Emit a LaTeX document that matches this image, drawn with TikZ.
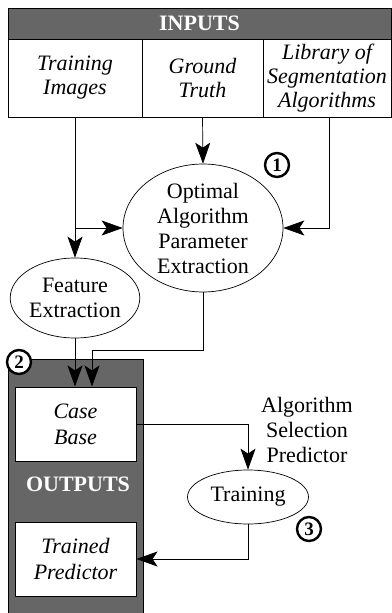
\documentclass[tikz,border=0pt]{standalone}
\usepackage{fontspec}
\setmainfont{Liberation Serif}
\usetikzlibrary{arrows.meta,positioning,shapes.geometric}
\definecolor{panelgray}{RGB}{102,102,102}

\begin{document}
\begin{tikzpicture}[x=1pt,y=-1pt,
  font=\fontsize{22}{25}\selectfont,
  arr/.style={-{Stealth[length=21pt,width=15pt,inset=5pt]},line width=0.7pt},
  inbox/.style={draw,line width=1pt,fill=white,minimum height=78pt,inner sep=0pt,align=center,font=\fontsize{22}{24}\selectfont\itshape},
  outbox/.style={draw,line width=1pt,fill=white,minimum width=121pt,minimum height=74pt,inner sep=0pt,align=center,font=\fontsize{22}{26}\selectfont\itshape},
  proc/.style={draw,line width=0.7pt,ellipse,fill=white,inner sep=0pt,align=center},
  stepno/.style={draw,circle,line width=2.4pt,fill=white,minimum size=24pt,inner sep=0pt,font=\fontsize{19}{19}\selectfont\bfseries}
]
\useasboundingbox (0,0) rectangle (391,613);

% inputs
\node[draw,line width=1pt,fill=panelgray,minimum width=383pt,minimum height=31pt,inner sep=0pt,
  text=white,font=\fontsize{22}{22}\selectfont\bfseries] (inputs) at (199.5,23.5) {INPUTS};
\node[inbox,minimum width=134pt] (ti) at (75,78) {Training\\Images};
\node[inbox,minimum width=121pt] (gt) at (202.5,78) {Ground\\Truth};
\node[inbox,minimum width=128pt] (lib) at (327,78) {Library of\\Segmentation\\Algorithms};

% processing
\node[proc,minimum width=160pt,minimum height=127pt] (opt) at (203,228) {Optimal\\Algorithm\\Parameter\\Extraction};
\node[proc,minimum width=123pt,minimum height=80pt] (fe) at (75,298) {Feature\\Extraction};
\node[stepno] (one) at (277,165) {1};

% outputs
\draw[line width=1pt,fill=panelgray] (8,359) rectangle (143,616);
\node[outbox] (cb) at (75.5,424) {Case\\Base};
\node[text=white,font=\fontsize{22}{22}\selectfont\bfseries] (outputs) at (78,484) {OUTPUTS};
\node[outbox] (tp) at (75.5,559) {Trained\\Predictor};
\node[stepno] (two) at (19,362) {2};

\node[proc,minimum width=121pt,minimum height=54pt] (tr) at (248,497) {Training};
\node[align=center] (asp) at (307,430) {Algorithm\\Selection\\Predictor};
\node[stepno] (three) at (309,529) {3};

% connectors
\draw[arr] (ti.south) -- (fe.north);
\draw[arr] (ti.south |- opt.west) -- (opt.west);
\draw[arr] (gt.south) -- (opt.north);
\draw[arr] ([xshift=2pt]lib.south) |- (opt.east);
\draw[arr] (fe.south) -- (fe.south |- cb.north);
\draw[arr] (opt.south) -- ++(0,58) -| ([xshift=16.5pt]cb.north);
\draw[arr] (cb.east) -| (tr.north);
\draw[arr] (tr.south) |- (tp.east);
\end{tikzpicture}
\end{document}
